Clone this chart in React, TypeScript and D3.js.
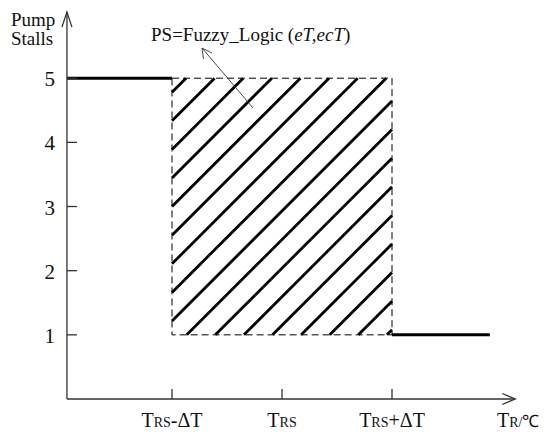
import React from "react";
import * as d3 from "d3";

// ---- data ----
const yTicks = [1, 2, 3, 4, 5];
const xTickValues = [1, 2, 3];
const xTickLabels = [
  { main: "T", sub: "RS", rest: "-ΔT" },
  { main: "T", sub: "RS", rest: "" },
  { main: "T", sub: "RS", rest: "+ΔT" },
];
// step-function pieces: [x0, x1, stalls]
const highSegment = [0.045, 1, 5];
const lowSegment = [3, 3.89, 1];
// fuzzy region
const fuzzyX = [1, 3];
const fuzzyY = [1, 5];
const annotation = "PS=Fuzzy_Logic ";
const annotationArgs = "eT,ecT";

const W = 550;
const H = 435;
const FONT = "'Liberation Serif', 'Times New Roman', serif";

export default function App() {
  const x = d3.scaleLinear().domain([0, 4]).range([62, 502]);
  const y = d3.scaleLinear().domain([0, 5]).range([399, 78.2]);

  const ox = x(0.045);
  const oy = y(0);
  const xEnd = x(4.12);
  const yTop = y(6.03);

  const rx0 = x(fuzzyX[0]);
  const rx1 = x(fuzzyX[1]);
  const ry0 = y(fuzzyY[1]);
  const ry1 = y(fuzzyY[0]);

  // hatch lines x + y = c
  const hatch: { x1: number; y1: number; x2: number; y2: number }[] = [];
  const step = 28.6;
  for (let c = rx0 + ry0 + 14; c < rx1 + ry1; c += step) {
    // start point: on left edge or bottom edge
    let sx = rx0, sy = c - rx0;
    if (sy > ry1) { sy = ry1; sx = c - ry1; }
    let ex = c - ry0, ey = ry0;
    if (ex > rx1) { ex = rx1; ey = c - rx1; }
    hatch.push({ x1: sx, y1: sy, x2: ex, y2: ey });
  }

  const line = d3.line<[number, number]>();

  return (
    <svg width={W} height={H} style={{ position: "absolute", left: 0, top: 0, background: "#fff" }}
      fontFamily={FONT}>
      <rect x={0} y={0} width={W} height={H} fill="#fff" />
      {/* hatch */}
      {hatch.map((h, i) => (
        <line key={i} x1={h.x1} y1={h.y1} x2={h.x2} y2={h.y2} stroke="#000" strokeWidth={2.8} />
      ))}
      {/* dashed rectangle */}
      <rect x={rx0} y={ry0} width={rx1 - rx0} height={ry1 - ry0} fill="none" stroke="#000"
        strokeWidth={1} strokeDasharray="7,4" />
      {/* step segments */}
      <path d={line([[x(highSegment[0]), y(highSegment[2])], [x(highSegment[1]), y(highSegment[2])]]) || ""}
        stroke="#000" strokeWidth={3} fill="none" />
      <path d={line([[x(lowSegment[0]), y(lowSegment[2])], [x(lowSegment[1]), y(lowSegment[2])]]) || ""}
        stroke="#000" strokeWidth={3} fill="none" />

      {/* axes */}
      <g stroke="#333" strokeWidth={1.3} fill="none">
        <line x1={ox} y1={oy} x2={ox} y2={yTop} />
        <line x1={ox} y1={oy} x2={xEnd} y2={oy} />
        <path d={`M${ox - 5},${yTop + 15} L${ox},${yTop} L${ox + 5},${yTop + 15}`} />
        <path d={`M${xEnd - 13},${oy - 5.5} L${xEnd},${oy} L${xEnd - 13},${oy + 5.5}`} />
        {yTicks.map((t) => (
          <line key={t} x1={ox} x2={ox + 10} y1={y(t)} y2={y(t)} />
        ))}
        {xTickValues.map((t) => (
          <line key={t} x1={x(t)} x2={x(t)} y1={oy} y2={oy - 10} />
        ))}
      </g>

      {/* y tick labels */}
      {yTicks.map((t) => (
        <text key={t} x={ox - 12} y={y(t) + 8} textAnchor="end" fontSize={21} fill="#111">{t}</text>
      ))}
      {/* x tick labels */}
      {xTickValues.map((t, i) => (
        <text key={t} x={x(t)} y={427} textAnchor="middle" fontSize={20} fill="#111">
          {xTickLabels[i].main}
          <tspan fontSize={14}>{xTickLabels[i].sub}</tspan>
          {xTickLabels[i].rest}
        </text>
      ))}
      {/* axis titles */}
      <text x={11} y={26} fontSize={19} fill="#111">Pump</text>
      <text x={11} y={45} fontSize={19} fill="#111">Stalls</text>
      <text x={497} y={427} fontSize={20} fill="#111">
        T<tspan fontSize={14}>R/</tspan><tspan fontSize={17}>℃</tspan>
      </text>

      {/* annotation */}
      <text x={151} y={41} fontSize={19} fill="#111">
        {annotation}(<tspan fontStyle="italic">{annotationArgs}</tspan>)
      </text>
      <g stroke="#333" strokeWidth={0.9} fill="none">
        <line x1={253} y1={108} x2={202} y2={48} />
        <path d="M203.5,59 L202,48 L212,53" />
      </g>
    </svg>
  );
}
